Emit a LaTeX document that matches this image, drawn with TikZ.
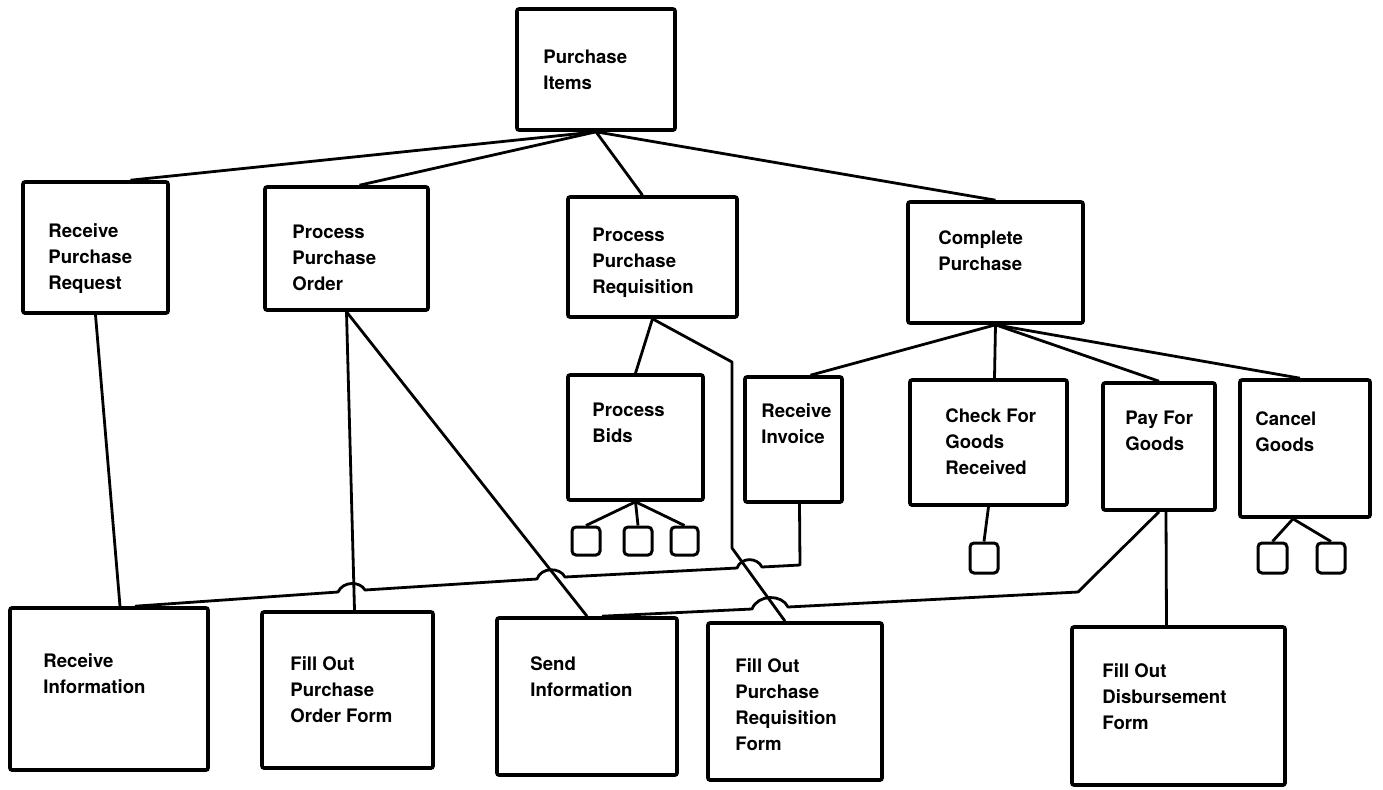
\documentclass[tikz,border=0pt]{standalone}
\usepackage{fontspec}
\setmainfont{TeX Gyre Heros}
\usetikzlibrary{calc, fit}

\begin{document}
\begin{tikzpicture}[x=0.5pt, y=-0.5pt,
    box/.style={draw, line width=1.8pt, rounded corners=1pt, inner sep=0pt},
    leaf/.style={draw, line width=1.5pt, rounded corners=2pt, inner sep=0pt},
    lbl/.style={anchor=north west, inner sep=0pt, align=left, font=\fontsize{9.3}{13}\selectfont\bfseries},
    link/.style={line width=1.4pt, line join=round}]
    \useasboundingbox (0,0) rectangle (1383,789);

    % Top
    \node[box, fit={(517,9) (675,130)}] (pi) {};
    \node[lbl] at (543,50) {Purchase\\Items};

    % Second level
    \node[box, fit={(23,182) (168,313)}] (rpr) {};
    \node[lbl] at (48,223) {Receive\\Purchase\\Request};
    \node[box, fit={(265,187) (428,310)}] (ppo) {};
    \node[lbl] at (292,225) {Process\\Purchase\\Order};
    \node[box, fit={(568,197) (737,317)}] (ppr) {};
    \node[lbl] at (592,228) {Process\\Purchase\\Requisition};
    \node[box, fit={(908,202) (1083,323)}] (cp) {};
    \node[lbl] at (938,230) {Complete\\Purchase};

    % Third level
    \node[box, fit={(568,375) (703,500)}] (pb) {};
    \node[lbl] at (592,403) {Process\\Bids};
    \node[box, fit={(745,377) (842,502)}] (ri) {};
    \node[lbl] at (761,403) {Receive\\Invoice};
    \node[box, fit={(910,380) (1067,505)}] (cg) {};
    \node[lbl] at (945,408) {Check For\\Goods\\Received};
    \node[box, fit={(1103,383) (1215,510)}] (pay) {};
    \node[lbl] at (1125,411) {Pay For\\Goods};
    \node[box, fit={(1240,380) (1370,517)}] (cancel) {};
    \node[lbl] at (1255,411) {Cancel\\Goods};

    % Small leaves
    \node[leaf, fit={(572,527) (600,555)}] (b1) {};
    \node[leaf, fit={(624,527) (652,555)}] (b2) {};
    \node[leaf, fit={(671,527) (698,555)}] (b3) {};
    \node[leaf, fit={(970,543) (998,573)}] (c1) {};
    \node[leaf, fit={(1258,543) (1287,573)}] (x1) {};
    \node[leaf, fit={(1317,543) (1345,573)}] (x2) {};

    % Bottom row
    \node[box, fit={(10,608) (208,770)}] (rinfo) {};
    \node[lbl] at (43,653) {Receive\\Information};
    \node[box, fit={(262,612) (433,768)}] (fpo) {};
    \node[lbl] at (290,656) {Fill Out\\Purchase\\Order Form};
    \node[box, fit={(497,618) (677,775)}] (send) {};
    \node[lbl] at (530,656) {Send\\Information};
    \node[box, fit={(708,623) (882,780)}] (frf) {};
    \node[lbl] at (735,658) {Fill Out\\Purchase\\Requisition\\Form};
    \node[box, fit={(1072,627) (1285,785)}] (fdf) {};
    \node[lbl] at (1102,663) {Fill Out\\Disbursement\\Form};

    % Purchase Items links
    \draw[link] (pi.south) -- ($(rpr.north)+(35,0)$);
    \draw[link] (pi.south) -- ($(ppo.north)+(13,0)$);
    \draw[link] (pi.south) -- ($(ppr.north)+(-10,0)$);
    \draw[link] (pi.south) -- (cp.north);

    % Complete Purchase links
    \draw[link] (cp.south) -- ($(ri.north)+(17,0)$);
    \draw[link] (cp.south) -- ($(cg.north)+(6,0)$);
    \draw[link] (cp.south) -- (pay.north);
    \draw[link] (cp.south) -- ($(cancel.north)+(-5,0)$);

    % Requisition links
    \draw[link] (ppr.south) -- (pb.north);
    \draw[link] (ppr.south) -- (732,362) -- (732,548) -- ($(frf.north)+(-10,0)$);

    % Leaves
    \draw[link] (pb.south) -- (b1.north);
    \draw[link] (pb.south) -- (b2.north);
    \draw[link] (pb.south) -- (b3.north);
    \draw[link] (cg.south) -- (c1.north);
    \draw[link] ($(cancel.south)+(-12,0)$) -- (x1.north);
    \draw[link] ($(cancel.south)+(-12,0)$) -- (x2.north);

    % Order and request links
    \draw[link] (ppo.south) -- ($(fpo.north)+(7,0)$);
    \draw[link] (ppo.south) -- (send.north);
    \draw[link] (rpr.south) -- ($(rinfo.north)+(11,0)$);

    % Invoice to Receive Information, with hops
    \draw[link] ($(ri.south)+(6,0)$) -- (800,565) -- (762,567)
        .. controls (757,557) and (741,557) .. (737,568) -- (565,577)
        .. controls (560,567) and (541,567) .. (537,579) -- (365,590)
        .. controls (360,581) and (343,581) .. (338,592) -- ($(rinfo.north)+(26,0)$);

    % Pay For Goods to Send Information, with hop
    \draw[link] (pay.south) -- (1078,592) -- (788,607)
        .. controls (782,594) and (758,594) .. (752,609) -- ($(send.north)+(15,0)$);
    \draw[link] ($(pay.south)+(7,0)$) -- ($(fdf.north)+(-12,0)$);

\end{tikzpicture}
\end{document}
